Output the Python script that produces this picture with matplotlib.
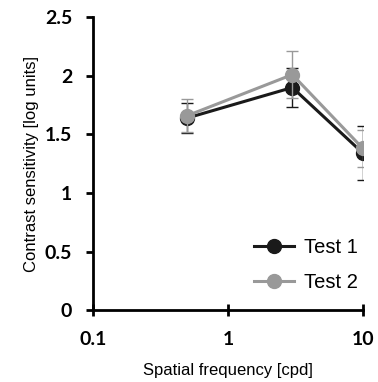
import matplotlib as mpl
mpl.use('agg')
import matplotlib.pyplot as plt
from matplotlib.lines import Line2D

freq = [0.5, 3, 10]
test1 = [1.64, 1.90, 1.34]
test1_err = [0.13, 0.17, 0.23]
test2 = [1.66, 2.01, 1.38]
test2_err = [0.14, 0.20, 0.16]

plt.rcParams['font.family'] = ['Liberation Sans', 'DejaVu Sans']

fig = plt.figure(figsize=(3.78, 3.82), dpi=100)
ax = fig.add_axes([0.246, 0.188, 0.714, 0.767])

ax.errorbar(freq, test1, yerr=test1_err, fmt='o-', color='#1a1a1a', ecolor='#1a1a1a',
            linewidth=2.2, markersize=10, elinewidth=1, capsize=4, capthick=1, zorder=3)
ax.errorbar(freq, test2, yerr=test2_err, fmt='o-', color='#999999', ecolor='#999999',
            linewidth=2.2, markersize=10, elinewidth=1, capsize=4, capthick=1, zorder=4)

ax.set_xscale('log')
ax.set_xlim(0.1, 10)
ax.set_ylim(0, 2.5)
ax.set_xticks([0.1, 1, 10])
ax.set_xticklabels(['0.1', '1', '10'])
ax.minorticks_off()
ax.set_yticks([0, 0.5, 1, 1.5, 2, 2.5])
ax.set_yticklabels(['0', '0.5', '1', '1.5', '2', '2.5'])
for lab in ax.get_xticklabels() + ax.get_yticklabels():
    lab.set_family(['Lato', 'DejaVu Sans'])
    lab.set_fontweight('bold')
    lab.set_fontsize(14)

ax.spines['top'].set_visible(False)
ax.spines['right'].set_visible(False)
ax.spines['left'].set_linewidth(2)
ax.spines['bottom'].set_linewidth(2)
ax.tick_params(axis='y', width=2, length=5, direction='out', pad=10)
ax.tick_params(axis='x', width=2, direction='inout', length=8, pad=11)

ax.set_xlabel('Spatial frequency [cpd]', fontsize=12, labelpad=11)
ax.set_ylabel('Contrast sensitivity [log units]', fontsize=12, labelpad=4)

handles = [Line2D([], [], color='#1a1a1a', marker='o', markersize=10, linewidth=2.2),
           Line2D([], [], color='#999999', marker='o', markersize=10, linewidth=2.2)]
ax.legend(handles, ['Test 1', 'Test 2'], loc='lower right', frameon=False, fontsize=14.5,
          handlelength=2.0, handletextpad=0.5, labelspacing=0.8, bbox_to_anchor=(1.05, 0.0))

fig.savefig("out.png", dpi=100)
